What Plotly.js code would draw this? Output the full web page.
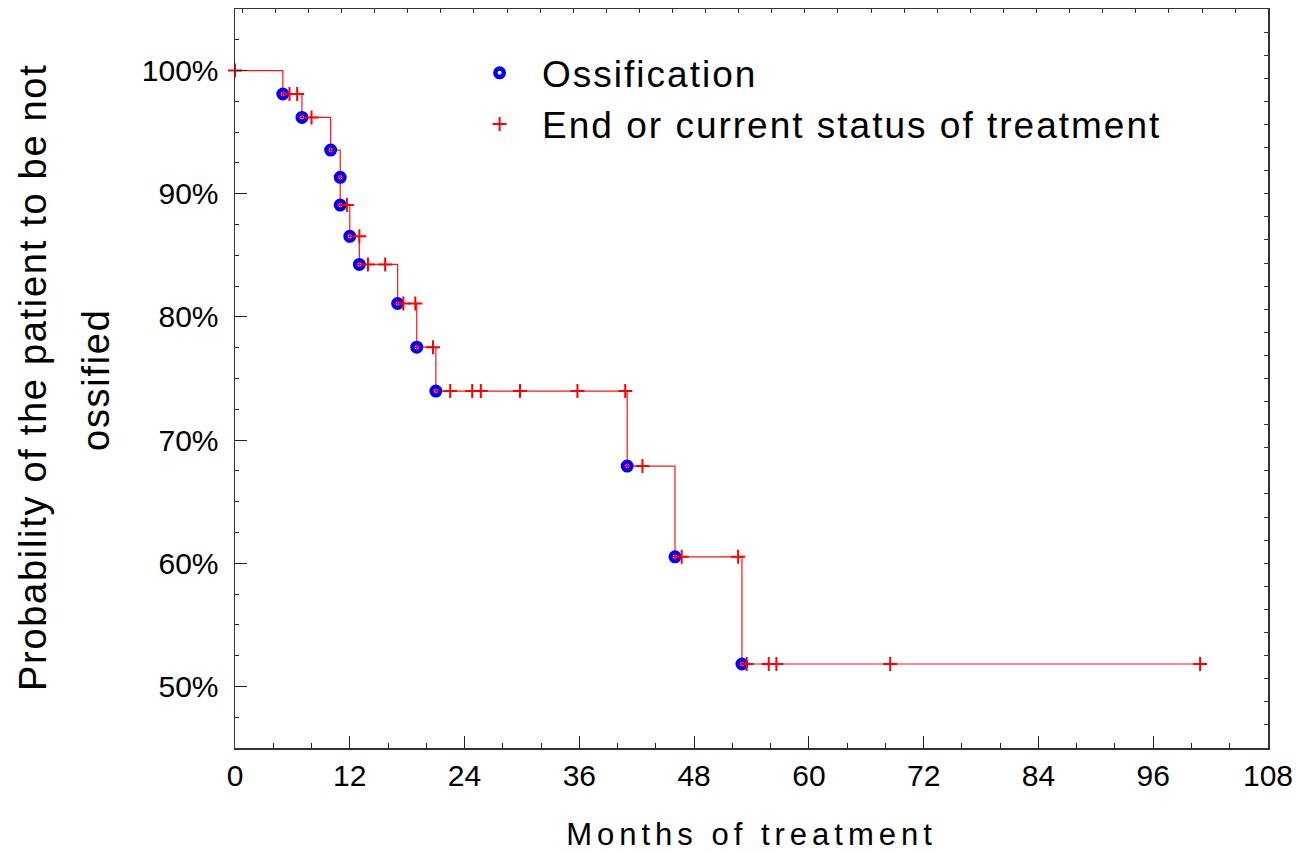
<!DOCTYPE html>
<html>
<head>
<meta charset="utf-8">
<script src="https://cdn.plot.ly/plotly-3.0.1.min.js"></script>
<style>
  html, body { margin: 0; padding: 0; background: #fff; }
  #chart { width: 1297px; height: 852px; }
  .legendtext { letter-spacing: 2px; }
  .xtitle { letter-spacing: 5px; }
  .annotation-text { letter-spacing: 1.7px; }
</style>
</head>
<body>
<div id="chart"></div>
<script>
// Event (ossification) times in months and survival (%) after each event
const eventMonths = [5, 7, 10, 11, 11, 12, 13, 17, 19, 21, 41, 46, 53];
const eventSurvival = [98.1, 96.2, 93.55, 91.33, 89.08, 86.54, 84.26, 81.09, 77.54, 73.98, 67.89, 60.52, 51.82];

// Censored observations (end or current status of treatment)
const censoredMonths = [0, 5.7, 6.5, 8, 11.7, 13, 13.9, 15.7, 17.6, 18.85, 20.7,
  22.5, 24.8, 25.7, 29.8, 35.8, 40.8, 42.6, 46.7, 52.6, 53.5, 55.8, 56.6, 68.5, 100.9];
const censoredSurvival = [100, 98.1, 98.1, 96.2, 89.08, 86.54, 84.26, 84.26, 81.09, 81.09, 77.54,
  73.98, 73.98, 73.98, 73.98, 73.98, 73.98, 67.89, 60.52, 60.52, 51.82, 51.82, 51.82, 51.82, 51.82];

// Axis tick values
const xTickVals = [0, 12, 24, 36, 48, 60, 72, 84, 96, 108];
const yTickVals = [50, 60, 70, 80, 90, 100];
const yTickText = ['50%', '60%', '70%', '80%', '90%', '100%'];

const legendNames = ['Ossification', 'End or current status of treatment'];
const yTitleLines = ['Probability of the patient to be not', 'ossified'];
const xTitleText = 'Months of treatment';

// Step line built from the data arrays
const lastIdx = censoredMonths.length - 1;
const lineX = [0].concat(eventMonths, [censoredMonths[lastIdx]]);
const lineY = [100].concat(eventSurvival, [censoredSurvival[lastIdx]]);

const FONT = 'Liberation Sans, Arial, Helvetica, sans-serif';

const traces = [
  {
    x: lineX, y: lineY, type: 'scatter', mode: 'lines',
    line: { shape: 'hv', color: 'rgb(255,20,20)', width: 1.2 },
    showlegend: false, hoverinfo: 'skip'
  },
  {
    x: eventMonths, y: eventSurvival, type: 'scatter', mode: 'markers',
    name: legendNames[0],
    marker: { symbol: 'circle-open', size: 8.5, color: 'rgb(0,0,255)', line: { color: 'rgb(0,0,255)', width: 4.5 } }
  },
  {
    x: censoredMonths, y: censoredSurvival, type: 'scatter', mode: 'markers',
    name: legendNames[1],
    marker: { symbol: 'cross-thin-open', size: 10, line: { color: 'rgb(255,0,0)', width: 2 }, color: 'rgb(255,0,0)' },
    cliponaxis: false
  },
  {
    x: eventMonths, y: eventSurvival, type: 'scatter', mode: 'markers',
    showlegend: false, hoverinfo: 'skip',
    marker: { symbol: 'cross-thin-open', size: 4, color: 'rgb(255,0,0)', line: { color: 'rgb(255,0,0)', width: 1.5 } }
  },
  {
    x: [], y: [], type: 'scatter', mode: 'markers', xaxis: 'x2', yaxis: 'y2',
    showlegend: false, hoverinfo: 'skip'
  }
];

const layout = {
  width: 1297, height: 852,
  margin: { l: 235, r: 29, t: 9, b: 104, pad: 0 },
  paper_bgcolor: '#ffffff', plot_bgcolor: '#ffffff',
  font: { family: FONT, color: '#000', size: 30 },
  showlegend: true,
  legend: {
    x: 0.215, y: 0.955, xanchor: 'left', yanchor: 'top', traceorder: 'normal',
    bgcolor: 'rgba(0,0,0,0)', borderwidth: 0,
    font: { family: FONT, size: 37, color: '#000' },
    itemwidth: 75, tracegroupgap: 0
  },
  xaxis: {
    range: [0, 108], tickvals: xTickVals, ticktext: xTickVals.map(String),
    ticks: 'inside', ticklen: 12, tickwidth: 1, tickcolor: '#222',
    minor: { dtick: 4, tick0: 0, ticks: 'inside', ticklen: 5, tickcolor: '#222', showgrid: false },
    showgrid: false, zeroline: false,
    showline: true, linecolor: '#333', linewidth: 1.5, mirror: true,
    tickfont: { family: FONT, size: 30, color: '#000' },
    ticklabelstandoff: 0,
    title: { text: xTitleText, font: { family: FONT, size: 31, color: '#000' }, standoff: 40 }
  },
  yaxis: {
    range: [45, 105], tickvals: yTickVals, ticktext: yTickText,
    ticks: 'inside', ticklen: 12, tickwidth: 1, tickcolor: '#222',
    minor: { dtick: 2.5, tick0: 45, ticks: 'inside', ticklen: 4, tickcolor: '#222', showgrid: false },
    showgrid: false, zeroline: false,
    showline: true, linecolor: '#333', linewidth: 1.5, mirror: true,
    tickfont: { family: FONT, size: 30, color: '#000' },
    ticklabelstandoff: 9
  },
  xaxis2: {
    overlaying: 'x', side: 'top', range: [0, 108],
    tick0: 0.763, dtick: 3.46, ticks: 'inside', ticklen: 4, tickcolor: '#333',
    showticklabels: false, showgrid: false, zeroline: false, showline: false
  },
  yaxis2: {
    overlaying: 'y', side: 'right', range: [45, 105],
    tick0: 45, dtick: 1.875, ticks: 'inside', ticklen: 4, tickcolor: '#333',
    showticklabels: false, showgrid: false, zeroline: false, showline: false
  },
  annotations: [
    {
      text: yTitleLines[0], xref: 'paper', yref: 'paper', x: -0.1956, y: 0.502,
      xanchor: 'center', yanchor: 'middle', textangle: -90, showarrow: false,
      font: { family: FONT, size: 38, color: '#000' }
    },
    {
      text: yTitleLines[1], xref: 'paper', yref: 'paper', x: -0.1346, y: 0.498,
      xanchor: 'center', yanchor: 'middle', textangle: -90, showarrow: false,
      font: { family: FONT, size: 38, color: '#000' }
    }
  ]
};

Plotly.newPlot('chart', traces, layout, { displayModeBar: false, staticPlot: true });
</script>
</body>
</html>
